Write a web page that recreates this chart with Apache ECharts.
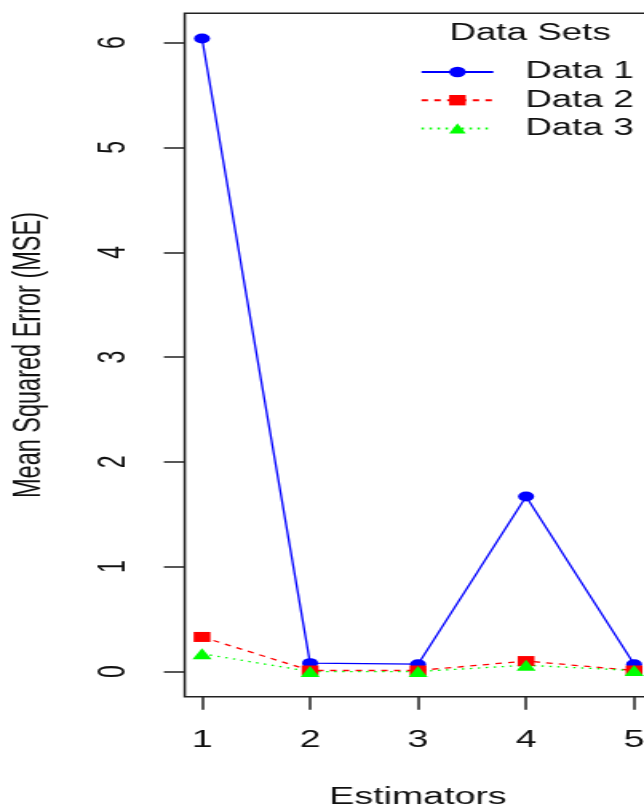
<!DOCTYPE html>
<html><head><meta charset="utf-8">
<script src="https://cdn.jsdelivr.net/npm/echarts@6/dist/echarts.min.js"></script>
<style>
html,body{margin:0;padding:0;overflow:hidden;background:#fff;width:644px;height:808px;}
#wrap{width:644px;height:808px;overflow:hidden;}
#chart{width:403px;height:808px;transform:scaleX(1.598);transform-origin:0 0;}
</style></head><body><div id="wrap"><div id="chart"></div></div>
<script>
// Data
const categories = [1, 2, 3, 4, 5];
const xTickLabels = ['1', '2', '3', '4', '5'];
const yTickValues = [0, 1, 2, 3, 4, 5, 6];
const seriesNames = ['Data 1', 'Data 2', 'Data 3'];
const data1 = [6.04, 0.08, 0.07, 1.67, 0.07];
const data2 = [0.33, 0.01, 0.01, 0.10, 0.01];
const data3 = [0.17, 0.00, 0.00, 0.06, 0.01];

const FONT = '"Liberation Sans", Arial, sans-serif';
const INK = '#111';
const pairs = vals => categories.map((c, i) => [c, vals[i]]);

const chart = echarts.init(document.getElementById('chart'), null, {renderer: 'canvas'});
chart.setOption({
  animation: false,
  backgroundColor: '#fff',
  grid: {
    left: 115.6, right: -4.6, top: 13.3, bottom: 111.3,
    containLabel: false, outerBoundsMode: 'none',
    show: true, borderColor: '#222', borderWidth: 1.5, backgroundColor: 'transparent'
  },
  graphic: [{
    type: 'text', x: 331.7, y: 33.5,
    style: {text: 'Data Sets', fontSize: 23, fontFamily: FONT, fill: INK, align: 'center', verticalAlign: 'middle'}
  }],
  legend: {
    orient: 'vertical', left: 262.8, top: 57.9, padding: 0,
    itemWidth: 44.9, itemHeight: 13, itemGap: 0,
    data: seriesNames,
    textStyle: {fontSize: 23, fontFamily: FONT, color: INK, lineHeight: 28.2, padding: [0, 0, 0, 15]}
  },
  xAxis: {
    type: 'value', min: 0.84, max: 5.16, position: 'bottom',
    axisLine: {show: false, onZero: false}, splitLine: {show: false},
    axisTick: {show: true, length: 13, customValues: categories, lineStyle: {color: '#222', width: 1.5}},
    axisLabel: {customValues: categories, margin: 32, fontSize: 23.5, fontFamily: FONT, color: INK,
      formatter: v => xTickLabels[categories.indexOf(v)]},
    name: 'Estimators', nameLocation: 'middle', nameGap: 89,
    nameTextStyle: {fontSize: 23.5, fontFamily: FONT, color: INK}
  },
  yAxis: {
    type: 'value', min: -0.24, max: 6.28,
    axisLine: {show: false, onZero: false}, splitLine: {show: false},
    axisTick: {show: true, length: 13, customValues: yTickValues, lineStyle: {color: '#222', width: 1.5}},
    axisLabel: {customValues: yTickValues, rotate: 90, margin: 32, fontSize: 23, fontFamily: FONT, color: INK},
    name: 'Mean Squared Error (MSE)', nameLocation: 'middle', nameGap: 85,
    nameTextStyle: {fontSize: 23.5, fontFamily: FONT, color: INK}
  },
  series: [
    {name: seriesNames[0], type: 'line', data: pairs(data1), symbol: 'circle', symbolSize: 10,
      lineStyle: {color: '#0000ff', width: 1.3, type: 'solid'}, itemStyle: {color: '#0000ff'}},
    {name: seriesNames[1], type: 'line', data: pairs(data2), symbol: 'rect', symbolSize: [10.5, 10],
      lineStyle: {color: '#ff0000', width: 1.3, type: [4, 4]}, itemStyle: {color: '#ff0000'}},
    {name: seriesNames[2], type: 'line', data: pairs(data3), symbol: 'triangle', symbolSize: [12, 11],
      lineStyle: {color: '#00ff00', width: 1.3, type: [1.5, 3.5]}, itemStyle: {color: '#00ff00'}}
  ]
});
</script></body></html>
